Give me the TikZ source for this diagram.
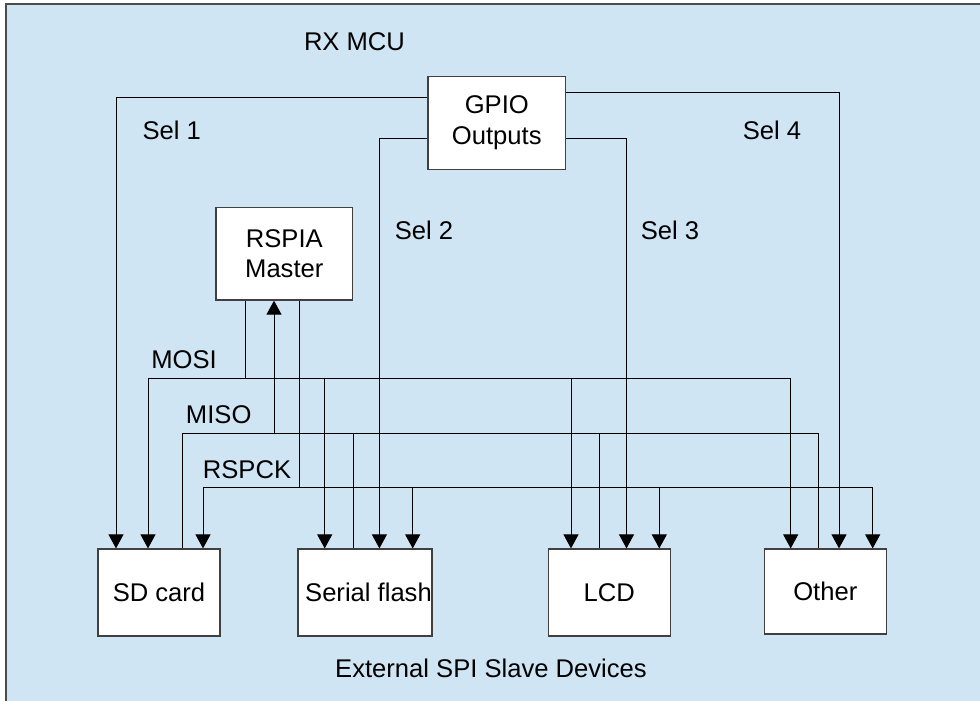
\documentclass[tikz,border=0pt]{standalone}
\usepackage{fontspec}
\setmainfont{Liberation Sans}
\usetikzlibrary{arrows.meta}
\definecolor{mcublue}{RGB}{207,229,243}
\tikzset{
  block/.style={draw=black!75,line width=1.2pt,fill=white,inner sep=0pt,align=center},
  wire/.style={line width=1pt,draw=black},
  tap/.style={wire,-{Triangle[width=15pt,length=14pt]}},
  lbl/.style={inner sep=0pt}
}
\begin{document}
\begin{tikzpicture}[x=1pt,y=-1pt,font=\fontsize{25.6}{30.7}\selectfont]
  \useasboundingbox (0,0) rectangle (980,701);
  \fill[mcublue] (6,4) rectangle (980,701);
  \draw[black!70,line width=1.5pt] (6,701) -- (6,4) -- (980,4);

  \node[block,minimum width=137.6pt,minimum height=92.6pt] (gpio) at (496.8,123) {GPIO\\Outputs};
  \node[block,minimum width=136.5pt,minimum height=92.7pt] (rspia) at (284.3,253.7) {RSPIA\\Master};
  \node[block,minimum width=122pt,minimum height=87pt] (sd) at (159,592.5) {SD card};
  \node[block,minimum width=134pt,minimum height=87pt] (flash) at (365,592.5) {\hspace*{7pt}Serial flash};
  \node[block,minimum width=122pt,minimum height=87pt] (lcd) at (609.3,592.5) {LCD};
  \node[block,minimum width=122pt,minimum height=85pt] (other) at (825.3,591.5) {Other};

  % chip selects
  \draw[tap] (gpio.west |- 0,97) -| (sd.north -| 116,0);
  \draw[tap] (gpio.west |- 0,138) -| (flash.north -| 379.4,0);
  \draw[tap] (gpio.east |- 0,138) -| (lcd.north -| 626.5,0);
  \draw[tap] (gpio.east |- 0,92) -| (other.north -| 839,0);

  % MOSI
  \draw[wire] (rspia.south -| 245.3,0) -- (245.3,378);
  \draw[tap] (790.7,378) -| (sd.north -| 148,0);
  \draw[tap] (790.7,378) -- (other.north -| 790.7,0);
  \draw[tap] (324.7,378) -- (flash.north -| 324.7,0);
  \draw[tap] (571,378) -- (lcd.north -| 571,0);

  % MISO
  \draw[wire] (sd.north -| 182.3,0) |- (818,433) -- (other.north -| 818,0);
  \draw[wire] (flash.north -| 353.3,0) -- (353.3,433);
  \draw[wire] (lcd.north -| 599.3,0) -- (599.3,433);
  \draw[tap] (274,433) -- (rspia.south -| 274,0);

  % RSPCK
  \draw[wire] (rspia.south -| 299.7,0) -- (299.7,487);
  \draw[tap] (872.7,487) -| (sd.north -| 203,0);
  \draw[tap] (872.7,487) -- (other.north -| 872.7,0);
  \draw[tap] (412.7,487) -- (flash.north -| 412.7,0);
  \draw[tap] (659.3,487) -- (lcd.north -| 659.3,0);

  \node[lbl] (rxmcu) at (354.5,41.7) {RX MCU};
  \node[lbl] (sel1) at (171.7,130.7) {Sel 1};
  \node[lbl] (sel2) at (424,230.7) {Sel 2};
  \node[lbl] (sel3) at (670,230.7) {Sel 3};
  \node[lbl] (sel4) at (772,130.7) {Sel 4};
  \node[lbl] (mosi) at (184,360) {MOSI};
  \node[lbl] (miso) at (218.7,415) {MISO};
  \node[lbl] (rspck) at (247,470) {RSPCK};
  \node[lbl] (slaves) at (491,668) {External SPI Slave Devices};
\end{tikzpicture}
\end{document}
